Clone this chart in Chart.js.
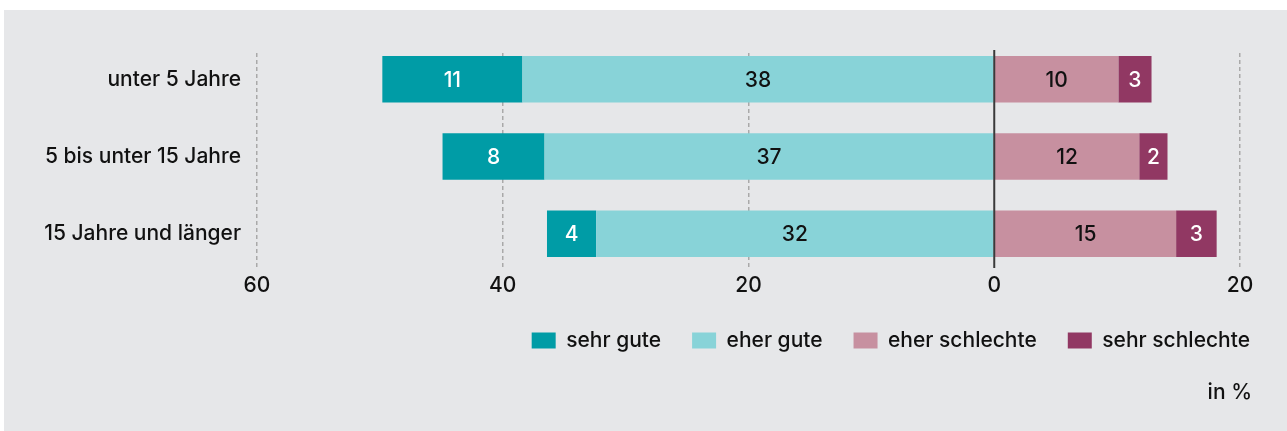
<!DOCTYPE html>
<html>
<head>
<meta charset="utf-8">
<script src="https://cdn.jsdelivr.net/npm/chart.js@4.4.0/dist/chart.umd.min.js"></script>
<style>
html, body { margin: 0; padding: 0; background: #fff; }
#wrap { position: absolute; left: 4px; top: 10px; width: 1283px; height: 421px; background: #e6e7e9; }
</style>
</head>
<body>
<div id="wrap"><canvas id="myChart"></canvas></div>
<script>
// Daten aus dem Diagramm (Anteile in %, aus den Balkenlaengen geschaetzt)
const categories = ['unter 5 Jahre', '5 bis unter 15 Jahre', '15 Jahre und länger'];
const seriesNames = ['sehr gute', 'eher gute', 'eher schlechte', 'sehr schlechte'];
const sehrGute = [11.4, 8.3, 4.0];
const eherGute = [38.4, 36.6, 32.4];
const eherSchlechte = [10.1, 11.8, 14.8];
const sehrSchlechte = [2.7, 2.3, 3.3];
const xTicks = [-60, -40, -20, 0, 20];
const unitLabel = 'in %';

const fontFamily = "Inter, 'Liberation Sans', Arial, sans-serif";
Chart.defaults.font.family = fontFamily;
Chart.defaults.font.size = 21;
Chart.defaults.font.weight = 500;
Chart.defaults.color = '#111';

// Werte in die Balken schreiben, Nulllinie und "in %"
const extras = {
    id: 'extras',
    afterDatasetsDraw(chart) {
        const ctx = chart.ctx;
        ctx.save();
        ctx.font = '500 21px ' + fontFamily;
        ctx.textAlign = 'center';
        ctx.textBaseline = 'middle';
        chart.data.datasets.forEach((ds, di) => {
            const meta = chart.getDatasetMeta(di);
            meta.data.forEach((bar, i) => {
                const p = bar.getCenterPoint();
                ctx.fillStyle = ds.labelColor;
                ctx.fillText(String(Math.round(Math.abs(ds.data[i]))), p.x, p.y + 1);
            });
        });
        // Nulllinie
        const x0 = chart.scales.x.getPixelForValue(0);
        ctx.strokeStyle = '#3a3a3a';
        ctx.lineWidth = 2;
        ctx.beginPath();
        ctx.moveTo(x0, chart.chartArea.top - 3);
        ctx.lineTo(x0, chart.chartArea.bottom + 1);
        ctx.stroke();
        // Einheit
        ctx.textAlign = 'right';
        ctx.fillStyle = '#111';
        ctx.fillText(unitLabel, chart.width - 35, 383);
        ctx.restore();
    }
};

const legendRank = ['sehr gute', 'eher gute', 'eher schlechte', 'sehr schlechte'];

new Chart(document.getElementById('myChart'), {
    type: 'bar',
    data: {
        labels: categories.map((c, i) => i),
        datasets: [{
            label: seriesNames[1],
            data: eherGute.map(v => -v),
            backgroundColor: '#88d3d8',
            labelColor: '#111'
        }, {
            label: seriesNames[0],
            data: sehrGute.map(v => -v),
            backgroundColor: '#009ca6',
            labelColor: '#fff'
        }, {
            label: seriesNames[2],
            data: eherSchlechte,
            backgroundColor: '#c790a0',
            labelColor: '#111'
        }, {
            label: seriesNames[3],
            data: sehrSchlechte,
            backgroundColor: '#913863',
            labelColor: '#fff'
        }]
    },
    options: {
        indexAxis: 'y',
        responsive: true,
        maintainAspectRatio: false,
        animation: false,
        datasets: {
            bar: { borderWidth: 0, categoryPercentage: 1, barPercentage: 0.6 }
        },
        layout: { padding: { top: 43, right: 6, bottom: 70, left: 0 } },
        scales: {
            x: {
                type: 'linear',
                stacked: true,
                min: xTicks[0],
                max: xTicks[xTicks.length - 1],
                afterBuildTicks: scale => { scale.ticks = xTicks.map(v => ({ value: v })); },
                afterFit: scale => { scale.height = 32; },
                ticks: {
                    callback: v => Math.abs(v),
                    padding: 6,
                    color: '#111'
                },
                grid: {
                    color: ctx => ctx.tick && ctx.tick.value === 0 ? 'rgba(0,0,0,0)' : '#a9a9a9',
                    lineWidth: 1.5,
                    drawTicks: false
                },
                border: { display: false, dash: [4, 3] }
            },
            y: {
                type: 'linear',
                stacked: true,
                reverse: true,
                offset: false,
                min: -0.34,
                max: 2.43,
                afterBuildTicks: scale => { scale.ticks = categories.map((c, i) => ({ value: i })); },
                afterFit: scale => { scale.width = 253; },
                ticks: {
                    autoSkip: false,
                    callback: v => categories[v],
                    padding: 8,
                    color: '#111'
                },
                grid: { display: false, offset: false },
                border: { display: false }
            },
            y2: {
                type: 'linear',
                position: 'right',
                display: true,
                afterFit: scale => { scale.width = 41; },
                ticks: { display: false },
                grid: { display: false },
                border: { display: false }
            }
        },
        plugins: {
            legend: {
                position: 'bottom',
                align: 'end',
                labels: {
                    boxWidth: 24,
                    boxHeight: 16,
                    padding: 31,
                    color: '#111',
                    sort: (a, b) => legendRank.indexOf(a.text) - legendRank.indexOf(b.text)
                }
            },
            title: { display: false },
            tooltip: { enabled: false }
        }
    },
    plugins: [extras]
});
</script>
</body>
</html>
